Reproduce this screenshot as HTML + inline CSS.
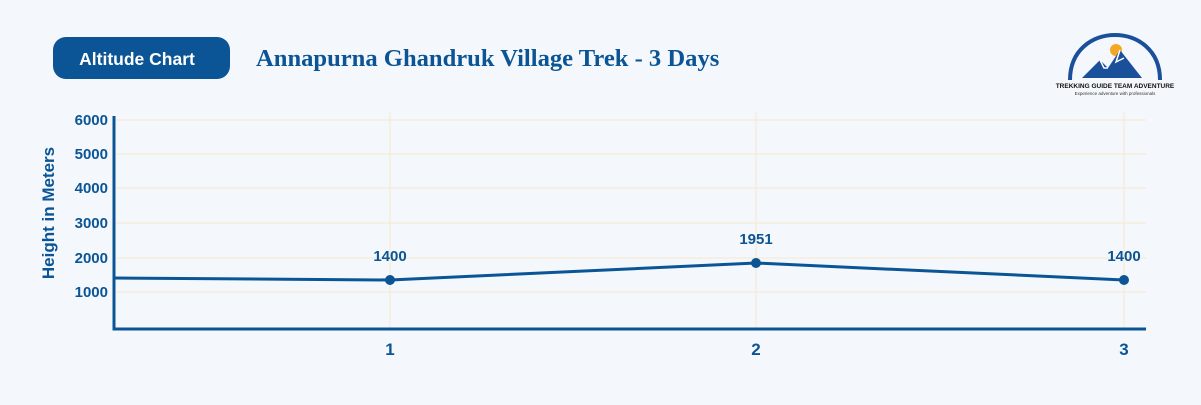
<!DOCTYPE html>
<html><head><style>
body{margin:0;width:1201px;height:400px;background:#f4f8fc;overflow:hidden;font-family:"Liberation Sans",sans-serif}
</style></head><body>
<svg width="1201" height="400" xmlns="http://www.w3.org/2000/svg">
<rect width="1201" height="400" fill="#f4f8fc"/>
<rect x="53" y="37" width="177" height="42" rx="13" fill="#0b5495"/>
<text x="137" y="65" text-anchor="middle" font-size="17.5" font-weight="bold" fill="#fff" font-family="Liberation Sans,sans-serif">Altitude Chart</text>
<text x="256" y="66" font-size="24.6" font-weight="bold" fill="#0b5495" font-family="Liberation Serif,serif">Annapurna Ghandruk Village Trek - 3 Days</text>
<path d="M1070 80 C1070 20 1160 20 1160 80" fill="none" stroke="#1a4f9a" stroke-width="4"/>
<circle cx="1116" cy="50" r="6" fill="#f5a623"/>
<path d="M1082 78 L1100 60 L1108 68 L1120 50 L1142 78 Z" fill="#1a4f9a"/>
<path d="M1100 60 L1104 68 L1108 68 M1120 50 L1116 62 L1124 58" fill="none" stroke="#fff" stroke-width="1.5"/>
<text x="1115" y="88" text-anchor="middle" font-size="6.5" font-weight="bold" fill="#111">TREKKING GUIDE TEAM ADVENTURE</text>
<text x="1115" y="95" text-anchor="middle" font-size="4.5" fill="#333">Experience adventure with professionals</text>
<g stroke="#f6e6cc" stroke-width="1">
<line x1="116" y1="120" x2="1146" y2="120"/><line x1="116" y1="154" x2="1146" y2="154"/>
<line x1="116" y1="188" x2="1146" y2="188"/><line x1="116" y1="223" x2="1146" y2="223"/>
<line x1="116" y1="258" x2="1146" y2="258"/><line x1="116" y1="292" x2="1146" y2="292"/>
<line x1="390" y1="112" x2="390" y2="329"/><line x1="756" y1="112" x2="756" y2="329"/><line x1="1124" y1="112" x2="1124" y2="329"/>
</g>
<path d="M114 116 V329 H1146" fill="none" stroke="#0b5495" stroke-width="3"/>
<g font-size="15" font-weight="bold" fill="#0b5495" text-anchor="end">
<text x="108" y="125">6000</text><text x="108" y="159">5000</text><text x="108" y="193">4000</text>
<text x="108" y="228">3000</text><text x="108" y="263">2000</text><text x="108" y="297">1000</text>
</g>
<text transform="translate(54 213) rotate(-90)" text-anchor="middle" font-size="17" font-weight="bold" fill="#0b5495">Height in Meters</text>
<g font-size="17" font-weight="bold" fill="#0b5495" text-anchor="middle">
<text x="390" y="355">1</text><text x="756" y="355">2</text><text x="1124" y="355">3</text>
</g>
<polyline points="114,278 390,280 756,263 1124,280" fill="none" stroke="#0b5495" stroke-width="3"/>
<g fill="#0b5495"><circle cx="390" cy="280" r="5"/><circle cx="756" cy="263" r="5"/><circle cx="1124" cy="280" r="5"/></g>
<g font-size="15" font-weight="bold" fill="#0b5495" text-anchor="middle">
<text x="390" y="261">1400</text><text x="756" y="244">1951</text><text x="1124" y="261">1400</text>
</g>
</svg>
</body></html>
